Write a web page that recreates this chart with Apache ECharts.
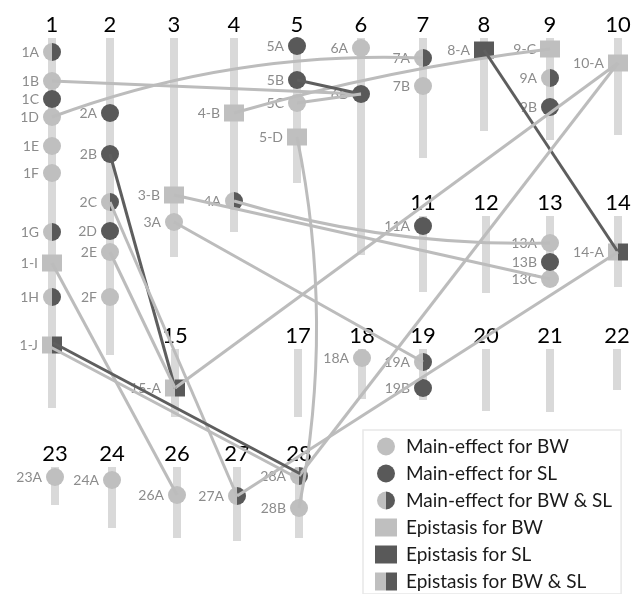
<!DOCTYPE html>
<html>
<head>
<meta charset="utf-8">
<script src="https://cdn.jsdelivr.net/npm/echarts@6/dist/echarts.min.js"></script>
<style>
html, body { margin: 0; padding: 0; background: #fff; }
#main { width: 632px; height: 594px; }
</style>
</head>
<body>
<div id="main"></div>
<script>
// chromosome map: units on both axes follow the original figure
const chromNames  = ['1', '2', '3', '4', '5', '6', '7', '8', '9', '10', '11', '12', '13', '14', '15', '17', '18', '19', '20', '21', '22', '23', '24', '26', '27', '28'];
const chromX      = [52, 110, 174, 234, 297, 361, 423, 484, 550, 618, 423, 486, 550, 618, 175, 298, 362, 423, 486, 550, 617, 55, 112, 177, 237, 299];
const chromTop    = [38, 38, 38, 38, 38, 38, 38, 38, 38, 38, 216, 216, 216, 216, 349, 349, 349, 349, 349, 349, 349, 467, 467, 467, 467, 467];
const chromBottom = [408, 355, 257, 232, 183, 255, 158, 131, 140, 135, 292, 293, 287, 287, 417, 417, 399, 400, 411, 412, 390, 505, 528, 538, 541, 538];

// QTL markers: chromosome, position, effect type
const markerNames = ['1A', '1B', '1C', '1D', '1E', '1F', '1G', '1-I', '1H', '1-J',
  '2A', '2B', '2C', '2D', '2E', '2F', '3-B', '3A', '4-B', '4A',
  '5A', '5B', '5C', '5-D', '6A', '6B', '7A', '7B', '8-A', '9-C', '9A', '9B', '10-A',
  '11A', '13A', '13B', '13C', '14-A', '15-A', '18A', '19A', '19B',
  '23A', '24A', '26A', '27A', '28A', '28B'];
const markerChrom = ['1', '1', '1', '1', '1', '1', '1', '1', '1', '1',
  '2', '2', '2', '2', '2', '2', '3', '3', '4', '4',
  '5', '5', '5', '5', '6', '6', '7', '7', '8', '9', '9', '9', '10',
  '11', '13', '13', '13', '14', '15', '18', '19', '19',
  '23', '24', '26', '27', '28', '28'];
const markerPos = [52, 81, 99, 117, 146, 173, 232, 263, 297, 345,
  113, 154, 202, 231, 252, 297, 195, 222, 113, 201,
  46, 80, 103, 137, 48, 94, 58, 86, 50, 49, 78, 107, 63,
  226, 243, 262, 279, 252, 388, 358, 362, 388,
  477, 480, 495, 496, 476, 508];
const markerType = ['both', 'bw', 'sl', 'bw', 'bw', 'bw', 'both', 'ebw', 'both', 'eboth',
  'sl', 'sl', 'both', 'sl', 'bw', 'bw', 'ebw', 'bw', 'ebw', 'both',
  'sl', 'sl', 'bw', 'ebw', 'bw', 'sl', 'both', 'bw', 'esl', 'ebw', 'both', 'sl', 'ebw',
  'sl', 'bw', 'sl', 'bw', 'eboth', 'eboth', 'bw', 'both', 'sl',
  'bw', 'bw', 'bw', 'both', 'both', 'bw'];

// epistatic pairs
const linkFrom  = ['1B', '1D', '4-B', '5B', '5C', '8-A', '10-A', '10-A', '14-A', '3-B', '4A', '3A', '2B', '2E', '2C', '1-I', '1-J', '5-D'];
const linkTo    = ['6B', '7A', '9-C', '6B', '6B', '14-A', '15-A', '28A', '27A', '13C', '13A', '19A', '15-A', '15-A', '27A', '26A', '28A', '28B'];
const linkTrait = ['bw', 'bw', 'bw', 'sl', 'bw', 'sl', 'bw', 'bw', 'bw', 'bw', 'bw', 'bw', 'sl', 'bw', 'bw', 'bw', 'both', 'bw'];
const linkBend  = [0, 0.1, 0.04, 0, 0, 0, 0, 0, 0, 0, -0.08, 0, 0, 0, 0, 0, 0, 0.1];

const LIGHT = '#bfbfbf';
const DARK = '#595959';
const BAR = '#d9d9d9';
const LINE_LIGHT = '#bcbcbc';
const LINE_DARK = '#5e5e5e';
const FONT = 'Lato, "Open Sans", sans-serif';

function halfFill() {
    return new echarts.graphic.LinearGradient(0, 0, 1, 0, [
        { offset: 0, color: LIGHT }, { offset: 0.5, color: LIGHT },
        { offset: 0.5, color: DARK }, { offset: 1, color: DARK }
    ]);
}

const typeDefs = [
    { key: 'bw', name: 'Main-effect for BW', symbol: 'circle', color: LIGHT },
    { key: 'sl', name: 'Main-effect for SL', symbol: 'circle', color: DARK },
    { key: 'both', name: 'Main-effect for BW & SL', symbol: 'circle', color: halfFill() },
    { key: 'ebw', name: 'Epistasis for BW', symbol: 'rect', color: LIGHT },
    { key: 'esl', name: 'Epistasis for SL', symbol: 'rect', color: DARK },
    { key: 'eboth', name: 'Epistasis for BW & SL', symbol: 'rect', color: halfFill() }
];

function markerXY(name) {
    const i = markerNames.indexOf(name);
    return [chromX[chromNames.indexOf(markerChrom[i])], markerPos[i]];
}

const chart = echarts.init(document.getElementById('main'));

const barSeries = {
    type: 'custom',
    silent: true,
    z: 1,
    clip: false,
    encode: { x: 0, y: [1, 2] },
    data: chromNames.map((n, i) => [chromX[i], chromTop[i], chromBottom[i]]),
    renderItem: (params, api) => {
        const top = api.coord([api.value(0), api.value(1)]);
        const bot = api.coord([api.value(0), api.value(2)]);
        return {
            type: 'group',
            children: [
                { type: 'rect', shape: { x: top[0] - 4, y: top[1], width: 8, height: bot[1] - top[1] }, style: { fill: BAR } },
                { type: 'text', x: top[0], y: top[1] - 13, style: { text: chromNames[params.dataIndex], fill: '#000', fontSize: 22, fontFamily: FONT, align: 'center', verticalAlign: 'middle' } }
            ]
        };
    }
};

const markerSeries = typeDefs.map(t => ({
    name: t.name,
    type: 'scatter',
    z: 2,
    symbol: t.symbol,
    symbolSize: t.symbol === 'rect' ? [20, 17] : 18,
    itemStyle: { color: t.color, opacity: 1 },
    label: { show: true, position: 'left', distance: 4, formatter: '{b}', color: '#8c8c8c', fontSize: 14, fontFamily: FONT },
    emphasis: { disabled: true },
    data: markerNames.filter((n, i) => markerType[i] === t.key).map(n => ({ name: n, value: markerXY(n) }))
}));

const linkSeries = {
    type: 'custom',
    silent: true,
    z: 3,
    clip: false,
    encode: { x: [0, 2], y: [1, 3] },
    data: linkFrom.map((f, i) => markerXY(f).concat(markerXY(linkTo[i]))),
    renderItem: (params, api) => {
        const i = params.dataIndex;
        const p1 = api.coord([api.value(0), api.value(1)]);
        const p2 = api.coord([api.value(2), api.value(3)]);
        const dx = p2[0] - p1[0], dy = p2[1] - p1[1];
        const len = Math.sqrt(dx * dx + dy * dy);
        const nx = dy / len, ny = -dx / len;
        const cx = (p1[0] + p2[0]) / 2 + linkBend[i] * dy;
        const cy = (p1[1] + p2[1]) / 2 - linkBend[i] * dx;
        const curve = (off, color) => ({
            type: 'bezierCurve',
            shape: {
                x1: p1[0] + nx * off, y1: p1[1] + ny * off,
                x2: p2[0] + nx * off, y2: p2[1] + ny * off,
                cpx1: cx + nx * off, cpy1: cy + ny * off
            },
            style: { stroke: color, lineWidth: 3, fill: 'none' }
        });
        const trait = linkTrait[i];
        if (trait === 'both') {
            return { type: 'group', children: [curve(-2.5, LINE_LIGHT), curve(2.5, LINE_DARK)] };
        }
        return curve(0, trait === 'sl' ? LINE_DARK : LINE_LIGHT);
    }
};

chart.setOption({
    backgroundColor: '#fff',
    animation: false,
    grid: { left: 0, right: 0, top: 0, bottom: 0 },
    xAxis: { type: 'value', min: 0, max: 632, show: false },
    yAxis: { type: 'value', min: 0, max: 594, inverse: true, show: false },
    legend: {
        data: typeDefs.map(t => t.name),
        orient: 'vertical',
        left: 363,
        top: 430,
        width: 250,
        height: 200,
        padding: [7, 9, 3, 12],
        itemWidth: 22,
        itemHeight: 18,
        itemGap: 8,
        borderColor: '#e8e8e8',
        borderWidth: 1.5,
        backgroundColor: '#fff',
        selectedMode: false,
        textStyle: { color: '#1a1a1a', fontSize: 19, lineHeight: 18, fontFamily: FONT, padding: [0, 0, 0, 4] }
    },
    series: [barSeries].concat(markerSeries, [linkSeries])
});
</script>
</body>
</html>
